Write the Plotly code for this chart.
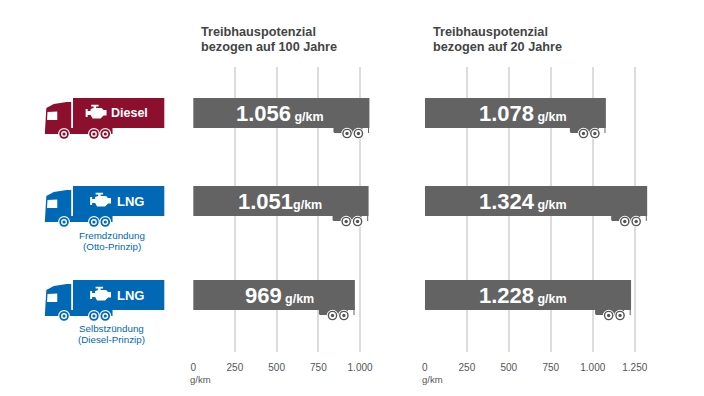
import plotly.graph_objects as go

W, H = 704, 396
fuel_labels = ["Diesel", "LNG", "LNG"]
sub_labels = [[], ["Fremdzündung", "(Otto-Prinzip)"], ["Selbstzündung", "(Diesel-Prinzip)"]]
values_100 = [1056, 1051, 969]
values_20 = [1078, 1324, 1228]
text_100 = ["1.056", "1.051", "969"]
text_20 = ["1.078", "1.324", "1.228"]
unit_sep_100 = [" ", "", " "]
unit_sep_20 = [" ", " ", " "]
ticks_100 = [0, 250, 500, 750, 1000]
ticks_20 = [0, 250, 500, 750, 1000, 1250]
tick_text_100 = ["0", "250", "500", "750", "1.000"]
tick_text_20 = ["0", "250", "500", "750", "1.000", "1.250"]
titles_100 = ["Treibhauspotenzial", "bezogen auf 100 Jahre"]
titles_20 = ["Treibhauspotenzial", "bezogen auf 20 Jahre"]
unit = "g/km"

# layout (pixel rows of the bars and icons)
row_y = [113, 201, 295]
box_top = [98, 186, 280]
row_colors = ["#8c0f2e", "#0068b4", "#0068b4"]
engine_dx = [0, 4.5, 4.5]
label_center_100 = 280
label_center_20 = 524.5
BAR = "#636363"
GRID = "#dcdcdc"
TXT = "#444444"
FONT = "Liberation Sans, Arial, sans-serif"
DX = -2


def px(x):
    return (x + DX) / W


def py(y):
    return 1 - y / H


def path(points):
    return "M" + " L".join(f"{px(x):.5f},{py(y):.5f}" for x, y in points) + " Z"


shapes = []
annots = []


def add_poly(points, color):
    shapes.append(dict(type="path", xref="paper", yref="paper", path=path(points),
                       fillcolor=color, line=dict(width=0), layer="above"))


def add_circle(cx, cy, r, color):
    shapes.append(dict(type="circle", xref="paper", yref="paper",
                       x0=px(cx - r), x1=px(cx + r), y0=py(cy + r), y1=py(cy - r),
                       fillcolor=color, line=dict(width=0), layer="above"))


def text(x, y, s, size, color, bold=False, anchor="center"):
    annots.append(dict(xref="paper", yref="paper", x=px(x), y=py(y), text=f"<b>{s}</b>" if bold else s,
                       showarrow=False, xanchor=anchor, yanchor="middle",
                       font=dict(family=FONT, size=size, color=color)))


def truck(top, color, edx):
    t = top
    add_poly([(72.3, t), (164, t), (164, t + 30), (72.3, t + 30)], color)
    add_poly([(44, t + 36), (45.5, t + 10), (53, t + 6), (66, t + 4), (70.5, t + 4),
              (70.5, t + 30), (112, t + 30), (112, t + 36)], color)
    add_poly([(46.7, t + 14), (56.5, t + 13.5), (56.5, t + 22), (46.2, t + 22)], "white")
    for cx in (63.3, 93.3, 104.7):
        add_circle(cx, t + 36, 6, "white")
        add_circle(cx, t + 36, 4.8, color)
        add_circle(cx, t + 36, 3, "white")
        add_circle(cx, t + 36, 1.6, color)
    d = edx
    c = t + 15
    add_poly([(85 + d, c - 4), (87 + d, c - 4), (87 + d, c - 2), (90 + d, c - 2), (90 + d, c - 4), (93 + d, c - 5),
              (93 + d, c - 6.5), (90.5 + d, c - 6.5), (90.5 + d, c - 8.3), (98 + d, c - 8.3), (98 + d, c - 6.5),
              (95.5 + d, c - 6.5), (95.5 + d, c - 5), (101 + d, c - 5), (103 + d, c - 3), (106 + d, c - 3),
              (106 + d, c + 2.5), (103 + d, c + 2.5), (100 + d, c + 5.5), (92 + d, c + 5.5), (90 + d, c + 2),
              (87 + d, c + 2), (87 + d, c + 4), (85 + d, c + 4)], "white")


def trailer(xref, yref, value, y):
    base = dict(xref=xref, yref=yref, xsizemode="pixel", ysizemode="pixel",
                xanchor=value, yanchor=y, layer="above", line=dict(width=0))
    # chassis
    shapes.append(dict(type="path", fillcolor=BAR,
                       path="M-36,-15 L-7,-15 L-7,-20 L-35,-20 L-36,-19 Z", **base))
    shapes.append(dict(type="rect", fillcolor=BAR, x0=-1.4, x1=-0.4, y0=-15, y1=-20, **base))
    for off in (-22.4, -11):
        for r, col in ((5.8, "white"), (4.8, "#555555"), (3.4, "white"), (1.7, "#555555")):
            shapes.append(dict(type="circle", fillcolor=col, x0=off - r, x1=off + r,
                               y0=-20.5 - r, y1=-20.5 + r, **base))


fig = go.Figure()
fig.add_trace(go.Bar(x=values_100, y=row_y, orientation="h", width=30, marker=dict(color=BAR, line=dict(width=0)),
                     xaxis="x", yaxis="y", showlegend=False, hoverinfo="skip"))
fig.add_trace(go.Bar(x=values_20, y=row_y, orientation="h", width=30, marker=dict(color=BAR, line=dict(width=0)),
                     xaxis="x2", yaxis="y2", showlegend=False, hoverinfo="skip"))

for i, y in enumerate(row_y):
    truck(box_top[i], row_colors[i], engine_dx[i])
    text(129.5 if i == 0 else 130, y + 0.5, fuel_labels[i], 12.5 if i == 0 else 13, "white", True)
    for j, s in enumerate(sub_labels[i]):
        text(111, y + (34 if i == 1 else 33) + j * 11.5, s, 9.8, row_colors[i])
    trailer("x", "y", values_100[i], y)
    trailer("x2", "y2", values_20[i], y)
    for center, lab, sep in ((label_center_100, text_100[i], unit_sep_100[i]),
                             (label_center_20, text_20[i], unit_sep_20[i])):
        annots.append(dict(xref="paper", yref="paper", x=px(center), y=py(y + 0.5), showarrow=False,
                           xanchor="center", yanchor="middle",
                           text=f"<b><span style='font-size:22px'>{lab}</span>{sep}<span style='font-size:12.5px'>{unit}</span></b>",
                           font=dict(family=FONT, size=12, color="white")))

for x0, lines in ((199, titles_100), (432, titles_20)):
    for j, s in enumerate(lines):
        text(x0, 32 + j * 15.5, s, 12.7, TXT, True, "left")
text(200.5, 379, unit, 9.5, "#555555")
text(433, 379, unit, 9.5, "#555555")


def x_axis(domain_px, rng, ticks, labels, anchor):
    return dict(domain=[px(domain_px[0]), px(domain_px[1])], range=rng, anchor=anchor,
                tickmode="array", tickvals=ticks, ticktext=labels, showgrid=True, gridcolor=GRID, gridwidth=1.5,
                zeroline=False, showline=False, ticks="", ticklabelstandoff=8,
                tickfont=dict(family=FONT, size=10, color="#555555"), fixedrange=True)


def y_axis(anchor):
    return dict(domain=[py(352), py(67)], range=[352, 67], visible=False, anchor=anchor, fixedrange=True)


fig.update_layout(
    width=W, height=H, autosize=False, margin=dict(l=0, r=0, t=0, b=0),
    paper_bgcolor="white", plot_bgcolor="rgba(0,0,0,0)", barmode="overlay", showlegend=False,
    xaxis=x_axis((193, 193 + 1100 * 0.1676), [0, 1100], ticks_100, tick_text_100, "y"),
    xaxis2=x_axis((425.7, 425.7 + 1350 * 0.1686), [0, 1350], ticks_20, tick_text_20, "y2"),
    yaxis=y_axis("x"), yaxis2=y_axis("x2"),
    shapes=shapes, annotations=annots,
)
fig.write_html("out.html", config=dict(displayModeBar=False),
               post_script=("document.body.style.margin='0';document.documentElement.style.overflow='hidden';"
                            "var g=document.querySelector('.plotly-graph-div');"
                            "g.style.position='absolute';g.style.left='0';g.style.top='0';"
                            "g.style.margin='0';"))
